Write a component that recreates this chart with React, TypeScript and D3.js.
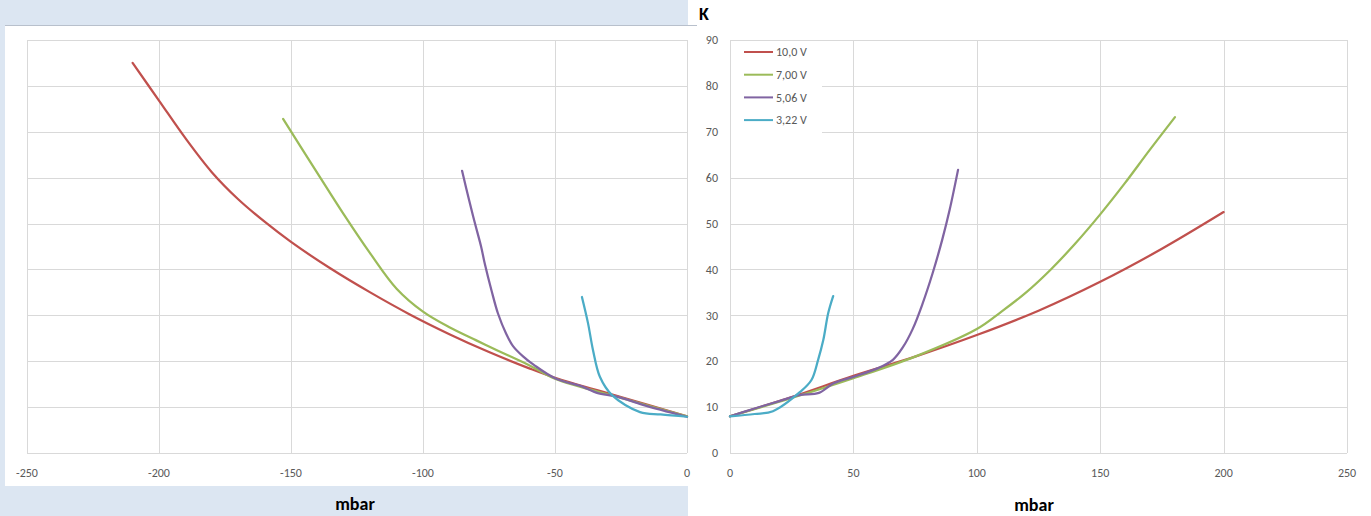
/**
 * K vs. mbar — two panels (negative / positive pressure), four supply voltages
 */
import { useEffect, useRef } from 'react';
import * as d3 from 'd3';

type Pt = [number, number];

const seriesNames = ['10,0 V', '7,00 V', '5,06 V', '3,22 V'];
const seriesColors = ['#C0504D', '#9BBB59', '#8064A2', '#4BACC6'];

// left panel (negative mbar)
const leftRed: Pt[] = [
  [-210, 85], [-200, 76.8], [-190, 68.6], [-180, 61.2], [-170, 55.3], [-160, 50.4], [-150, 46],
  [-135, 40.2], [-120, 35], [-105, 30.2], [-90, 25.9], [-75, 22], [-60, 18.5], [-50, 16.4],
  [-25, 12.2], [0, 8],
];
const leftGreen: Pt[] = [
  [-153, 72.8], [-140, 61], [-130, 52], [-120, 43.5], [-110, 35.8], [-100, 30.8], [-90, 27.4],
  [-80, 24.6], [-72, 22.4], [-60, 19.2], [-50, 16.2], [-25, 12], [0, 8],
];
const leftPurple: Pt[] = [
  [-85.2, 61.5], [-82.5, 55], [-80.3, 50], [-78, 45], [-76.5, 41], [-74, 35.3], [-71.6, 30.4],
  [-68.5, 26], [-65.9, 23.3], [-62, 21], [-58, 19.2], [-50, 16.3], [-39.4, 14.4], [-34.1, 13.1],
  [-26.5, 12.3], [-16.7, 10.5], [0, 7.9],
];
const leftCyan: Pt[] = [
  [-39.8, 34], [-37.5, 28.3], [-35.6, 22.4], [-33, 16.6], [-28.4, 12.6], [-17.8, 8.9], [-10, 8.4], [0, 7.9],
];

// right panel (positive mbar)
const rightRed: Pt[] = [
  [0, 8], [25, 12.2], [50, 16.8], [75, 21], [100, 25.7], [125, 31], [150, 37.3], [175, 44.5], [200, 52.5],
];
const rightGreen: Pt[] = [
  [0, 8], [25, 12], [50, 16.3], [75, 21], [100, 27], [110, 30.8], [120, 35], [130, 40],
  [140, 45.7], [150, 52], [160, 58.8], [170, 66], [180.3, 73.2],
];
const rightPurple: Pt[] = [
  [0, 8], [10, 9.7], [20, 11.3], [28, 12.6], [36, 13.1], [42, 15.2], [50, 16.6], [60, 18.5],
  [66, 20.3], [70, 23], [74, 27], [78, 32.5], [82, 39], [86, 46.5], [89, 53], [92.4, 61.7],
];
const rightCyan: Pt[] = [
  [0, 8], [10, 8.5], [17.4, 9.1], [28.4, 13.3], [33, 15.9], [35.7, 20.3], [37.8, 24.6], [39.8, 30.5], [41.8, 34.2],
];

const leftTicks = [-250, -200, -150, -100, -50, 0];
const rightTicks = [0, 50, 100, 150, 200, 250];
const yTicks = [0, 10, 20, 30, 40, 50, 60, 70, 80, 90];

const FONT = "Carlito, Calibri, 'Liberation Sans Narrow', 'DejaVu Sans Condensed', sans-serif";
const GRID = '#d9d9d9';
const TEXT = '#595959';

export default function App() {
  const svgRef = useRef<SVGSVGElement>(null);

  useEffect(() => {
    if (!svgRef.current) return;
    const svg = d3.select(svgRef.current);
    svg.selectAll('*').remove();

    const y = d3.scaleLinear().domain([0, 90]).range([453, 40]);
    const xL = d3.scaleLinear().domain([-250, 0]).range([27, 687]);
    const xR = d3.scaleLinear().domain([0, 250]).range([730, 1347]);

    // ── left panel background ──
    svg.append('rect').attr('x', 0).attr('y', 0).attr('width', 688).attr('height', 516).attr('fill', '#dce6f2');
    svg.append('rect').attr('x', 5).attr('y', 25).attr('width', 683).attr('height', 461).attr('fill', '#fff');
    svg.append('line').attr('x1', 5).attr('x2', 697).attr('y1', 25.5).attr('y2', 25.5)
      .attr('stroke', '#b8c0cc').attr('stroke-width', 1);

    const panel = (x: d3.ScaleLinear<number, number>, ticks: number[], data: Pt[][], showY: boolean) => {
      const g = svg.append('g');
      const [x0, x1] = x.range();
      g.selectAll('.hg').data(yTicks).enter().append('line')
        .attr('x1', x0).attr('x2', x1)
        .attr('y1', (d) => Math.round(y(d)) + 0.5).attr('y2', (d) => Math.round(y(d)) + 0.5)
        .attr('stroke', GRID).attr('stroke-width', 1);
      g.selectAll('.vg').data(ticks).enter().append('line')
        .attr('x1', (d) => Math.round(x(d)) + 0.5).attr('x2', (d) => Math.round(x(d)) + 0.5)
        .attr('y1', y(90)).attr('y2', y(0))
        .attr('stroke', GRID).attr('stroke-width', 1);

      g.selectAll('.xt').data(ticks).enter().append('text')
        .attr('x', (d) => x(d)).attr('y', 477)
        .attr('text-anchor', 'middle').attr('fill', TEXT)
        .attr('font-family', FONT).attr('font-size', '12px')
        .text((d) => `${d}`);

      if (showY) {
        g.selectAll('.yt').data(yTicks).enter().append('text')
          .attr('x', 718).attr('y', (d) => y(d)).attr('dy', '0.35em')
          .attr('text-anchor', 'end').attr('fill', TEXT)
          .attr('font-family', FONT).attr('font-size', '12px')
          .text((d) => `${d}`);

        // legend box covers grid
        g.append('rect').attr('x', 731).attr('y', 41).attr('width', 91).attr('height', 94).attr('fill', '#fff');
        seriesNames.forEach((name, i) => {
          const ly = 52 + i * 22.7;
          g.append('line').attr('x1', 744).attr('x2', 773).attr('y1', ly).attr('y2', ly)
            .attr('stroke', seriesColors[i]).attr('stroke-width', 2);
          g.append('text').attr('x', 776).attr('y', ly).attr('dy', '0.35em')
            .attr('fill', TEXT).attr('font-family', FONT).attr('font-size', '12px')
            .text(name);
        });
      }

      const line = d3.line<Pt>()
        .x((d) => x(d[0]))
        .y((d) => y(d[1]))
        .curve(d3.curveCatmullRom.alpha(0.5));

      data.forEach((s, i) => {
        g.append('path').datum(s).attr('d', line)
          .attr('fill', 'none').attr('stroke', seriesColors[i])
          .attr('stroke-width', 2.25).attr('stroke-linejoin', 'round').attr('stroke-linecap', 'round');
      });
    };

    panel(xL, leftTicks, [leftRed, leftGreen, leftPurple, leftCyan], false);
    panel(xR, rightTicks, [rightRed, rightGreen, rightPurple, rightCyan], true);

    // axis titles
    svg.append('text').attr('x', 355).attr('y', 510).attr('text-anchor', 'middle')
      .attr('font-family', FONT).attr('font-weight', 'bold').attr('font-size', '18px').attr('fill', '#000')
      .text('mbar');
    svg.append('text').attr('x', 1034).attr('y', 511).attr('text-anchor', 'middle')
      .attr('font-family', FONT).attr('font-weight', 'bold').attr('font-size', '18px').attr('fill', '#000')
      .text('mbar');
    svg.append('text').attr('x', 699).attr('y', 20)
      .attr('font-family', FONT).attr('font-weight', 'bold').attr('font-size', '18px').attr('fill', '#000')
      .text('K');
  }, []);

  return (
    <div style={{ position: 'absolute', left: 0, top: 0 }}>
      <svg ref={svgRef} width={1371} height={516} style={{ display: 'block', background: '#fff' }} />
    </div>
  );
}
